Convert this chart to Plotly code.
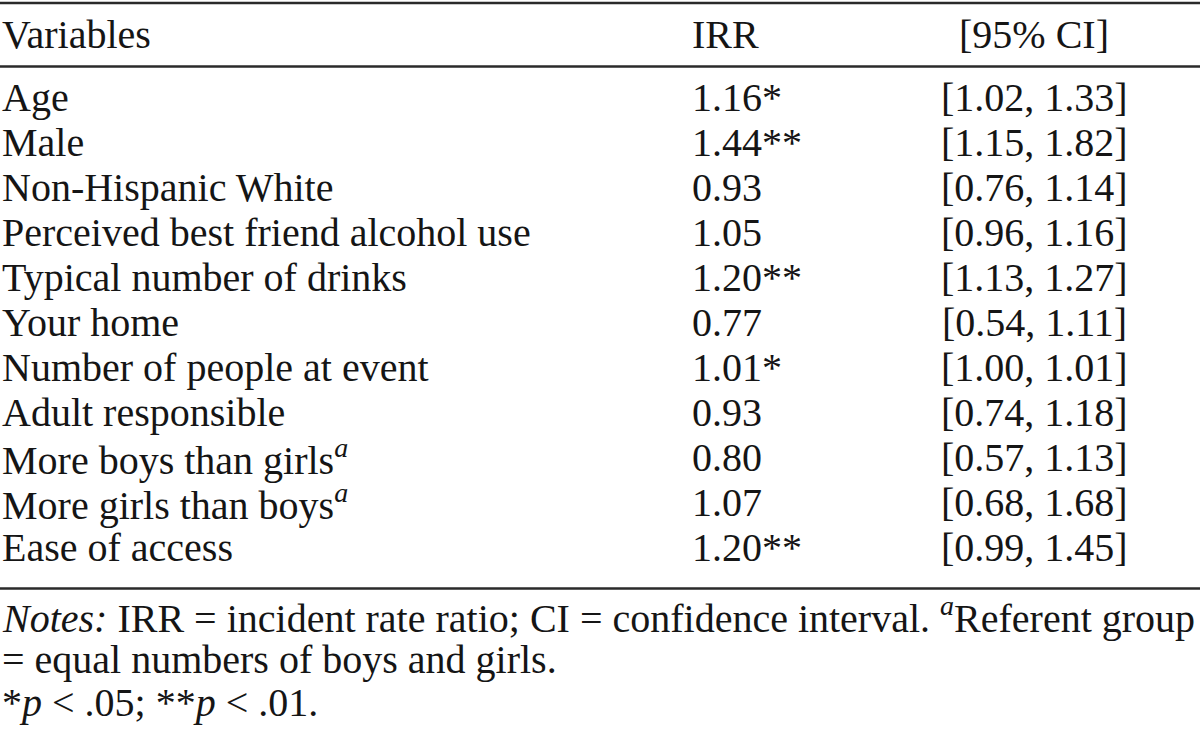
import plotly.graph_objects as go

# ---- data ----
headers = ["Variables", "IRR", "[95% CI]"]
variables = [
    "Age", "Male", "Non-Hispanic White", "Perceived best friend alcohol use",
    "Typical number of drinks", "Your home", "Number of people at event",
    "Adult responsible", "More boys than girls<sup><i>a</i></sup>",
    "More girls than boys<sup><i>a</i></sup>", "Ease of access",
]
irr = [1.16, 1.44, 0.93, 1.05, 1.20, 0.77, 1.01, 0.93, 0.80, 1.07, 1.20]
sig = ["*", "**", "", "", "**", "", "*", "", "", "", "**"]
ci_low = [1.02, 1.15, 0.76, 0.96, 1.13, 0.54, 1.00, 0.74, 0.57, 0.68, 0.99]
ci_high = [1.33, 1.82, 1.14, 1.16, 1.27, 1.11, 1.01, 1.18, 1.13, 1.68, 1.45]
notes = [
    "<i>Notes:</i> IRR = incident rate ratio; CI = confidence interval. <sup><i>a</i></sup>Referent group",
    "= equal numbers of boys and girls.",
    "*<i>p</i> < .05; **<i>p</i> < .01.",
]

# ---- layout constants ----
W, H = 1200, 733
FS = 40
FONT = "Liberation Serif"
COLOR = "#151515"
x_var, x_irr, x_ci = 0, 690, 1034
header_base = 47
row_base0, row_step = 110, 45.0
note_base0, note_step = 628, 43.5
rules_y = [3, 66.5, 588.5]


def ymid(base):
    return base - 0.31 * FS


fig = go.Figure()
fig.add_trace(go.Scatter(x=[0, W], y=[0, H], mode="markers",
                         marker=dict(opacity=0), hoverinfo="skip", showlegend=False))

ann = []


def add(text, x, base, anchor="left"):
    ann.append(dict(text=text, x=x, y=ymid(base), xref="x", yref="y",
                    xanchor=anchor, yanchor="middle", showarrow=False,
                    font=dict(family=FONT, size=FS, color=COLOR)))


add(headers[0], x_var, header_base)
add(headers[1], x_irr, header_base)
add(headers[2], x_ci, header_base, "center")

for i, v in enumerate(variables):
    b = row_base0 + row_step * i
    add(v, x_var, b)
    add(f"{irr[i]:.2f}{sig[i]}", x_irr, b)
    add(f"[{ci_low[i]:.2f}, {ci_high[i]:.2f}]", x_ci, b, "center")

for j, n in enumerate(notes):
    add(n, x_var, note_base0 + note_step * j)

shapes = [dict(type="line", xref="x", yref="y", x0=0, x1=W, y0=y, y1=y,
               line=dict(color="#2a2a2a", width=2.5)) for y in rules_y]

fig.update_layout(
    width=W, height=H,
    margin=dict(l=0, r=0, t=0, b=0),
    paper_bgcolor="white", plot_bgcolor="white",
    xaxis=dict(range=[0, W], visible=False, fixedrange=True),
    yaxis=dict(range=[H, 0], visible=False, fixedrange=True),
    annotations=ann, shapes=shapes,
    showlegend=False,
)

fig.write_html("out.html", config={"displayModeBar": False},
               post_script="document.body.style.margin='0';document.body.style.overflow='hidden';")
